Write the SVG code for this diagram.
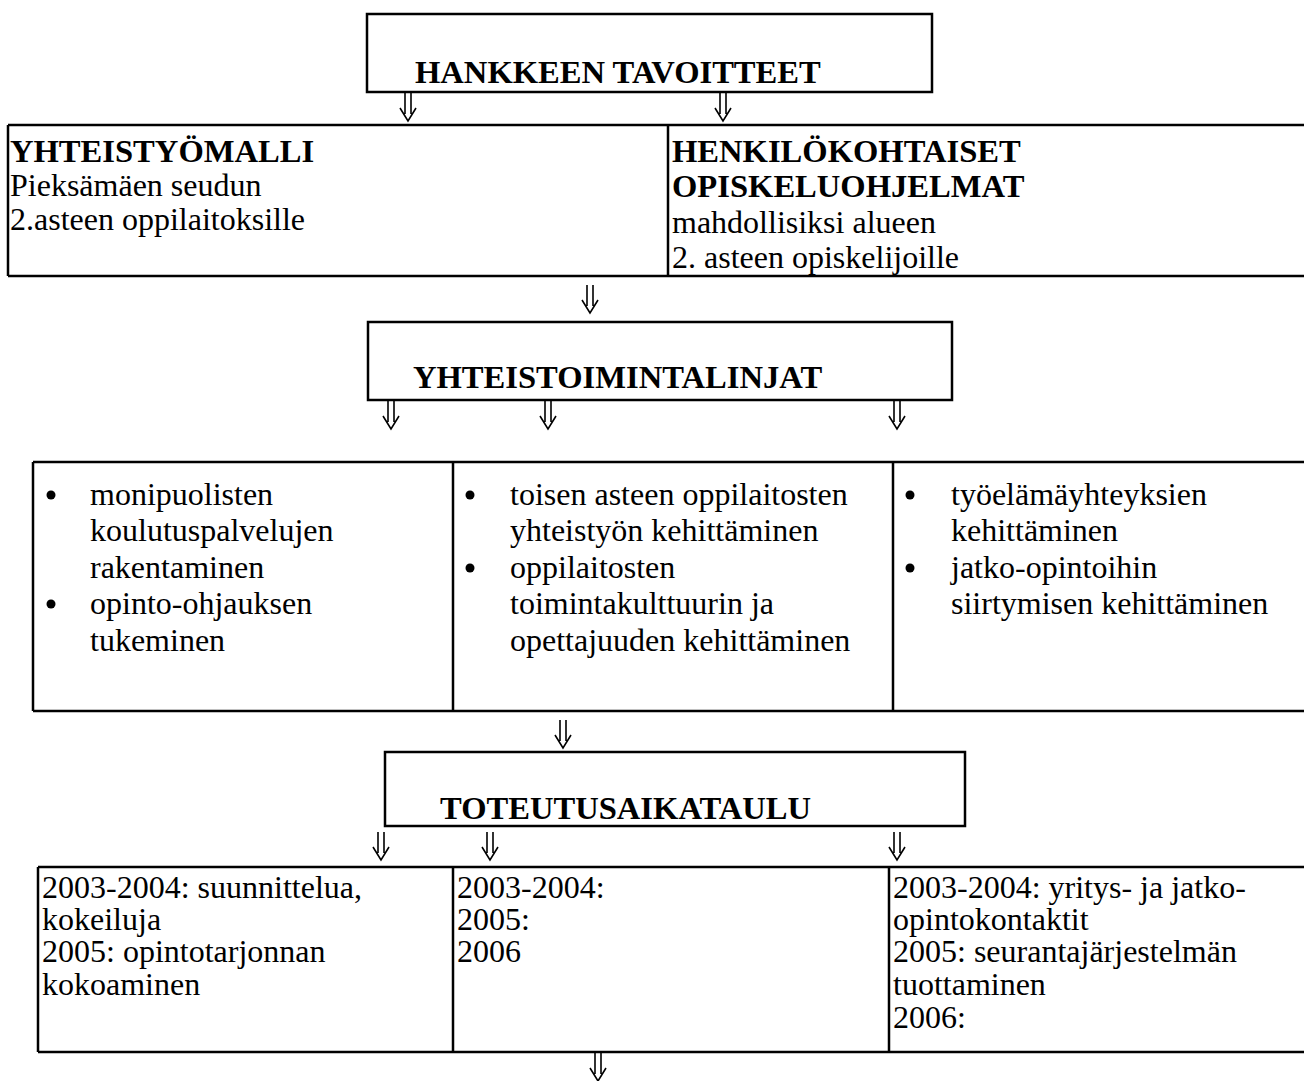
<svg xmlns="http://www.w3.org/2000/svg" xmlns:xlink="http://www.w3.org/1999/xlink" width="1304" height="1081" viewBox="0 0 1304 1081">
<style>
.box{fill:none;stroke:#000;stroke-width:2.5}
.ln{stroke:#000;stroke-width:2.5}
.t{font-family:"Liberation Serif","Times New Roman",serif;font-size:32px;fill:#000}
.b{font-weight:bold;font-size:32.6px}
.arr{fill:none;stroke:#000;stroke-width:1.6}
</style>
<defs>
<path id="arr" class="arr" d="M-3,0 V21 M3,0 V21 M-8,15 L0,28 L8,15"/>
</defs>
<rect width="1304" height="1081" fill="#fff"/>

<g id="goals">
<rect class="box" x="367" y="14" width="565" height="78"/>
<text class="t b" x="415" y="83">HANKKEEN TAVOITTEET</text>
</g>

<g id="table1">
<path class="ln" d="M8,125 H1310 M8,276 H1310 M8,125 V276 M668,125 V276"/>
<g id="yhteistyomalli">
<text class="t b" x="10" y="162">YHTEISTYÖMALLI</text>
<text class="t" x="10" y="196">Pieksämäen seudun</text>
<text class="t" x="10" y="230">2.asteen oppilaitoksille</text>
</g>
<g id="henkilokohtaiset">
<text class="t b" x="672" y="162">HENKILÖKOHTAISET</text>
<text class="t b" x="672" y="197">OPISKELUOHJELMAT</text>
<text class="t" x="672" y="233">mahdollisiksi alueen</text>
<text class="t" x="672" y="268">2. asteen opiskelijoille</text>
</g>
</g>

<g id="linjat">
<rect class="box" x="368" y="322" width="584" height="78"/>
<text class="t b" x="413" y="388">YHTEISTOIMINTALINJAT</text>
</g>

<g id="table2">
<path class="ln" d="M33,462 H1310 M33,711 H1310 M33,462 V711 M453,462 V711 M893,462 V711"/>
<g id="line1">
<circle cx="51" cy="495" r="4.5"/>
<text class="t" x="90" y="505">monipuolisten</text>
<text class="t" x="90" y="541">koulutuspalvelujen</text>
<text class="t" x="90" y="578">rakentaminen</text>
<circle cx="51" cy="604" r="4.5"/>
<text class="t" x="90" y="614">opinto-ohjauksen</text>
<text class="t" x="90" y="651">tukeminen</text>
</g>
<g id="line2">
<circle cx="470" cy="495" r="4.5"/>
<text class="t" x="510" y="505">toisen asteen oppilaitosten</text>
<text class="t" x="510" y="541">yhteistyön kehittäminen</text>
<circle cx="470" cy="568" r="4.5"/>
<text class="t" x="510" y="578">oppilaitosten</text>
<text class="t" x="510" y="614">toimintakulttuurin ja</text>
<text class="t" x="510" y="651">opettajuuden kehittäminen</text>
</g>
<g id="line3">
<circle cx="910" cy="495" r="4.5"/>
<text class="t" x="951" y="505">työelämäyhteyksien</text>
<text class="t" x="951" y="541">kehittäminen</text>
<circle cx="910" cy="568" r="4.5"/>
<text class="t" x="951" y="578">jatko-opintoihin</text>
<text class="t" x="951" y="614">siirtymisen kehittäminen</text>
</g>
</g>

<g id="aikataulu">
<rect class="box" x="385" y="752" width="580" height="74"/>
<text class="t b" x="440" y="819">TOTEUTUSAIKATAULU</text>
</g>

<g id="table3">
<path class="ln" d="M38,867 H1310 M38,1052 H1310 M38,867 V1052 M453,867 V1052 M889,867 V1052"/>
<g id="time1">
<text class="t" x="42" y="898">2003-2004: suunnittelua,</text>
<text class="t" x="42" y="930">kokeiluja</text>
<text class="t" x="42" y="962">2005: opintotarjonnan</text>
<text class="t" x="42" y="995">kokoaminen</text>
</g>
<g id="time2">
<text class="t" x="457" y="898">2003-2004:</text>
<text class="t" x="457" y="930">2005:</text>
<text class="t" x="457" y="962">2006</text>
</g>
<g id="time3">
<text class="t" x="893" y="898">2003-2004: yritys- ja jatko-</text>
<text class="t" x="893" y="930">opintokontaktit</text>
<text class="t" x="893" y="962">2005: seurantajärjestelmän</text>
<text class="t" x="893" y="995">tuottaminen</text>
<text class="t" x="893" y="1028">2006:</text>
</g>
</g>

<g id="connectors">
<use xlink:href="#arr" x="408" y="93"/>
<use xlink:href="#arr" x="723" y="93"/>
<use xlink:href="#arr" x="590" y="285"/>
<use xlink:href="#arr" x="391" y="401"/>
<use xlink:href="#arr" x="548" y="401"/>
<use xlink:href="#arr" x="897" y="401"/>
<use xlink:href="#arr" x="563" y="720"/>
<use xlink:href="#arr" x="381" y="832"/>
<use xlink:href="#arr" x="490" y="832"/>
<use xlink:href="#arr" x="897" y="832"/>
<use xlink:href="#arr" x="598" y="1053"/>
</g>
</svg>
